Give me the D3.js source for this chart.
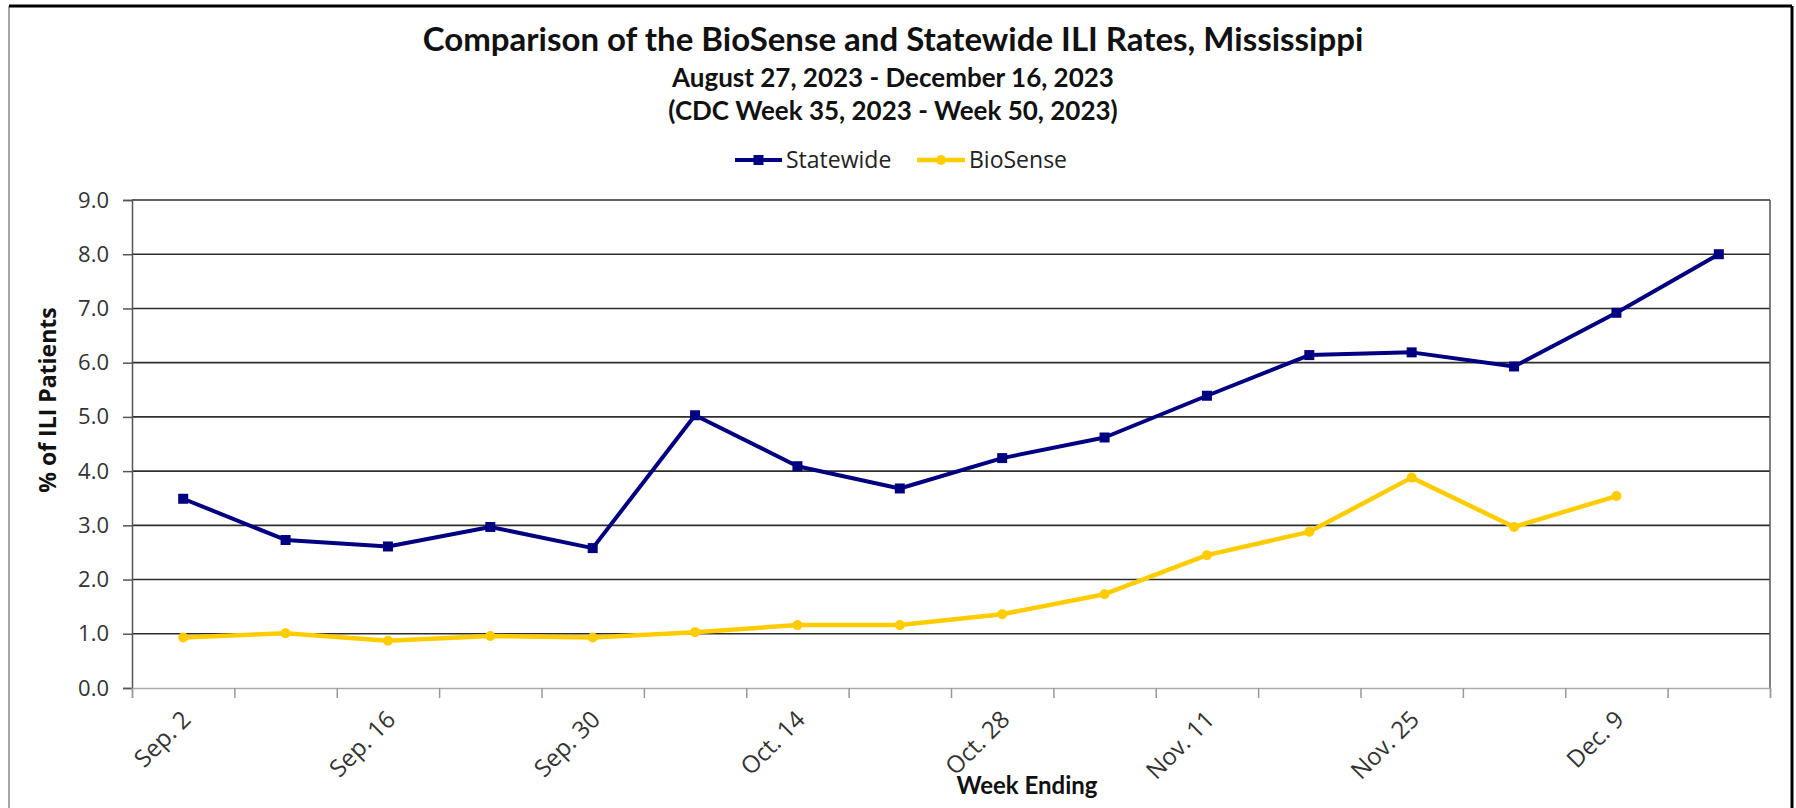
<!DOCTYPE html>
<html>
<head>
<meta charset="utf-8">
<script src="https://cdn.jsdelivr.net/npm/d3@7"></script>
<style>
  body { margin: 0; background: #fff; }
  .tick text { font-family: "Open Sans", sans-serif; }
</style>
</head>
<body>
<div class="chart"></div>
<script>
// week ending dates (CDC weeks 35-50, 2023)
var weeks = ["Sep. 2", "Sep. 9", "Sep. 16", "Sep. 23", "Sep. 30", "Oct. 7", "Oct. 14", "Oct. 21",
  "Oct. 28", "Nov. 4", "Nov. 11", "Nov. 18", "Nov. 25", "Dec. 2", "Dec. 9", "Dec. 16"];
// only every other week gets a label
var weekLabels = ["Sep. 2", "Sep. 16", "Sep. 30", "Oct. 14", "Oct. 28", "Nov. 11", "Nov. 25", "Dec. 9"];

var statewide = [3.49, 2.73, 2.61, 2.97, 2.58, 5.03, 4.09, 3.68, 4.24, 4.62, 5.39, 6.14, 6.19, 5.93, 6.92, 8.00];
var biosense = [0.93, 1.01, 0.87, 0.96, 0.93, 1.03, 1.16, 1.16, 1.36, 1.73, 2.45, 2.88, 3.88, 2.97, 3.54, null];

var yTicks = [0, 1, 2, 3, 4, 5, 6, 7, 8, 9];

var svgWidth = 1796;
var svgHeight = 808;

var margin = { top: 200, right: 26, bottom: 120, left: 132 };
var width = svgWidth - margin.left - margin.right;
var height = svgHeight - margin.top - margin.bottom;

var svg = d3.select(".chart")
  .append("svg")
  .attr("width", svgWidth)
  .attr("height", svgHeight);

// outer frame
svg.append("line").attr("x1", 9).attr("y1", 6).attr("x2", 9).attr("y2", svgHeight)
  .attr("stroke", "#8a8a8a").attr("stroke-width", 1.5);
svg.append("line").attr("x1", 9).attr("y1", 6).attr("x2", 1792).attr("y2", 6)
  .attr("stroke", "#000").attr("stroke-width", 3);
svg.append("line").attr("x1", 1792).attr("y1", 6).attr("x2", 1792).attr("y2", svgHeight)
  .attr("stroke", "#000").attr("stroke-width", 3);

// titles
var titleX = 893;
svg.append("text")
  .attr("x", titleX).attr("y", 51)
  .attr("text-anchor", "middle")
  .style("font-family", "Lato, sans-serif").style("font-weight", "bold").style("font-size", "33px")
  .attr("fill", "#111")
  .text("Comparison of the BioSense and Statewide ILI Rates, Mississippi");

svg.append("text")
  .attr("x", titleX).attr("y", 87)
  .attr("text-anchor", "middle")
  .style("font-family", "Lato, sans-serif").style("font-weight", "bold").style("font-size", "26px")
  .attr("fill", "#111")
  .text("August 27, 2023 - December 16, 2023");

svg.append("text")
  .attr("x", titleX).attr("y", 120)
  .attr("text-anchor", "middle")
  .style("font-family", "Lato, sans-serif").style("font-weight", "bold").style("font-size", "26px")
  .attr("fill", "#111")
  .text("(CDC Week 35, 2023 - Week 50, 2023)");

var chartGroup = svg.append("g")
  .attr("transform", `translate(${margin.left}, ${margin.top})`);

// scales
var xBand = d3.scaleBand().domain(weeks).range([0, width]);
var xEdge = d3.scaleLinear().domain([0, weeks.length]).range([0, width]);
var yLinearScale = d3.scaleLinear().domain([0, 9]).range([height, 0]);

// gridlines
chartGroup.append("g")
  .selectAll("line")
  .data(yTicks.filter(d => d > 0))
  .enter()
  .append("line")
  .attr("x1", 0).attr("x2", width)
  .attr("y1", d => yLinearScale(d)).attr("y2", d => yLinearScale(d))
  .attr("stroke", "#2e2e2e").attr("stroke-width", 1.6);

// right plot border
chartGroup.append("line")
  .attr("x1", width).attr("x2", width).attr("y1", 0).attr("y2", height)
  .attr("stroke", "#555").attr("stroke-width", 1.5);

// y axis
var leftAxis = d3.axisLeft(yLinearScale)
  .tickValues(yTicks)
  .tickSize(9)
  .tickPadding(14)
  .tickFormat(d3.format(".1f"));

var yAxisG = chartGroup.append("g").call(leftAxis);
yAxisG.select(".domain").attr("stroke", "#555").attr("stroke-width", 1.5);
yAxisG.selectAll(".tick line").attr("stroke", "#555").attr("stroke-width", 1.5);
yAxisG.selectAll(".tick text").style("font-size", "22px").attr("fill", "#333");

// x axis (ticks between categories)
var bottomAxis = d3.axisBottom(xEdge)
  .tickValues(d3.range(weeks.length + 1))
  .tickSize(10)
  .tickFormat("");

var xAxisG = chartGroup.append("g")
  .attr("transform", `translate(0, ${height})`)
  .call(bottomAxis);
xAxisG.select(".domain").attr("stroke", "#aaa").attr("stroke-width", 1.5);
xAxisG.selectAll(".tick line").attr("stroke", "#999").attr("stroke-width", 1.5);

// x labels, rotated
chartGroup.append("g")
  .selectAll("text")
  .data(weekLabels)
  .enter()
  .append("text")
  .attr("transform", d => `translate(${xBand(d) + xBand.bandwidth() / 2 + 3}, ${height + 27}) rotate(-45)`)
  .attr("text-anchor", "end")
  .attr("dy", "0.35em")
  .style("font-family", "Open Sans, sans-serif").style("font-size", "24px")
  .attr("fill", "#333")
  .text(d => d);

// axis titles
chartGroup.append("text")
  .attr("transform", `translate(${48 - margin.left}, ${400 - margin.top}) rotate(-90)`)
  .attr("text-anchor", "middle")
  .attr("dy", "0.35em")
  .style("font-family", "Open Sans, sans-serif").style("font-weight", "bold").style("font-size", "23px")
  .attr("fill", "#111")
  .text("% of ILI Patients");

chartGroup.append("text")
  .attr("x", 1027 - margin.left).attr("y", 794 - margin.top)
  .attr("text-anchor", "middle")
  .style("font-family", "Lato, sans-serif").style("font-weight", "bold").style("font-size", "24px")
  .attr("fill", "#111")
  .text("Week Ending");

// lines
var cx = (d, i) => xBand(weeks[i]) + xBand.bandwidth() / 2;

var line = d3.line()
  .defined(d => d != null)
  .x(cx)
  .y(d => yLinearScale(d));

chartGroup.append("path")
  .datum(statewide)
  .attr("fill", "none")
  .attr("stroke", "#000080")
  .attr("stroke-width", 4)
  .attr("stroke-linejoin", "round")
  .attr("d", line);

chartGroup.append("path")
  .datum(biosense)
  .attr("fill", "none")
  .attr("stroke", "#ffcc00")
  .attr("stroke-width", 4.5)
  .attr("stroke-linejoin", "round")
  .attr("d", line);

// markers
chartGroup.selectAll(".sqMark")
  .data(statewide)
  .enter()
  .append("rect")
  .attr("class", "sqMark")
  .attr("x", (d, i) => cx(d, i) - 5)
  .attr("y", d => yLinearScale(d) - 5)
  .attr("width", 10).attr("height", 10)
  .attr("fill", "#000080");

chartGroup.selectAll(".dotMark")
  .data(biosense.map((v, i) => ({ v: v, i: i })).filter(d => d.v != null))
  .enter()
  .append("circle")
  .attr("class", "dotMark")
  .attr("cx", d => cx(d.v, d.i))
  .attr("cy", d => yLinearScale(d.v))
  .attr("r", 5)
  .attr("fill", "#ffcc00");

// legend
var legend = svg.append("g").attr("transform", "translate(735, 160)");
legend.append("line").attr("x1", 0).attr("x2", 47).attr("stroke", "#000080").attr("stroke-width", 4);
legend.append("rect").attr("x", 18.5).attr("y", -5).attr("width", 10).attr("height", 10).attr("fill", "#000080");
legend.append("text").attr("x", 51).attr("dy", "0.35em")
  .style("font-family", "Open Sans, sans-serif").style("font-size", "23px").attr("fill", "#222")
  .text("Statewide");

legend.append("line").attr("x1", 182).attr("x2", 230).attr("stroke", "#ffcc00").attr("stroke-width", 4.5);
legend.append("circle").attr("cx", 206).attr("cy", 0).attr("r", 5).attr("fill", "#ffcc00");
legend.append("text").attr("x", 234).attr("dy", "0.35em")
  .style("font-family", "Open Sans, sans-serif").style("font-size", "23px").attr("fill", "#222")
  .text("BioSense");
</script>
</body>
</html>
